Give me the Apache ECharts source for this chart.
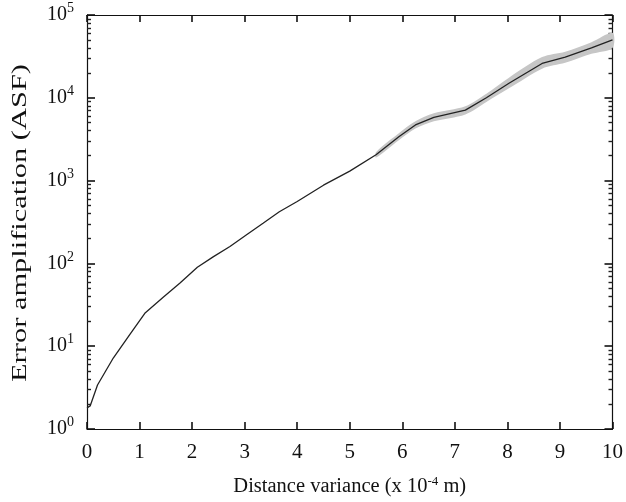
<!DOCTYPE html>
<html>
<head>
<meta charset="utf-8">
<script src="https://cdn.jsdelivr.net/npm/echarts@6/dist/echarts.min.js"></script>
<style>html,body{margin:0;padding:0;background:#fff}#c{width:626px;height:502px}</style>
</head>
<body>
<div id="c"></div>
<script>
// Mean curve
var xs = [0.0, 0.06, 0.2, 0.5, 0.82, 1.1, 1.45, 1.77, 2.1, 2.4, 2.72, 3.03, 3.35, 3.66, 4.0, 4.5, 5.0, 5.5, 5.94, 6.25, 6.6, 7.2, 7.6, 8.03, 8.66, 9.1, 9.6, 10.0];
var ys = [1.8, 1.9, 3.4, 7.2, 14, 25, 39, 58, 90, 120, 160, 220, 305, 420, 560, 880, 1300, 2050, 3400, 4700, 5800, 7100, 10000, 15000, 26000, 31000, 40000, 50000];
// Spread band
var bandX = [5.5, 5.94, 6.25, 6.6, 7.2, 7.6, 8.03, 8.66, 9.1, 9.6, 10.0];
var bandHigh = [2200, 3750, 5200, 6500, 7900, 11200, 17500, 31000, 36000, 47000, 61000];
var bandLow = [1900, 3100, 4250, 5200, 6300, 8900, 13000, 22500, 26500, 34000, 40000];
// Axis ticks
var xTicks = [0, 1, 2, 3, 4, 5, 6, 7, 8, 9, 10];
var yDecades = [0, 1, 2, 3, 4, 5];
var yMinor = [];
for (var d = 0; d < 5; d++) { for (var k = 2; k <= 9; k++) { yMinor.push(d + Math.log10(k)); } }
var yTitle = 'Error amplification (ASF)';
var xTitle = 'Distance variance (x 10{s|-4} m)';

var FONT = 'Liberation Serif';
var lineData = xs.map(function (x, i) { return [x, ys[i]]; });
var chart = echarts.init(document.getElementById('c'), null, { renderer: 'canvas' });
var ts = { color: '#111', width: 1.6 };
var tsMinor = { color: '#222', width: 1.4 };
chart.setOption({
  animation: false,
  backgroundColor: '#ffffff',
  grid: { left: 87, top: 15, width: 527, height: 414, show: false },
  graphic: [{
    type: 'text', x: 20, y: 223, rotation: Math.PI / 2, scaleX: 1.45, silent: true,
    style: { text: yTitle, fontFamily: FONT, fontSize: 21, fill: '#111', align: 'center', verticalAlign: 'middle' }
  }],
  xAxis: [{
    type: 'value', min: 0, max: 10, interval: 1, position: 'bottom',
    name: xTitle, nameLocation: 'middle', nameGap: 46,
    nameTextStyle: { fontFamily: FONT, fontSize: 20.5, color: '#111', rich: { s: { fontFamily: FONT, fontSize: 13, color: '#111', padding: [0, 0, 10, 0] } } },
    axisLine: { show: true, onZero: false, lineStyle: { color: '#111', width: 1.2 } },
    axisTick: { show: true, inside: true, length: 7, lineStyle: ts },
    axisLabel: { fontFamily: FONT, fontSize: 21, color: '#111', margin: 13 },
    splitLine: { show: false }
  }, {
    type: 'value', min: 0, max: 10, interval: 1, position: 'top',
    axisLine: { show: true, onZero: false, lineStyle: { color: '#111', width: 1.2 } },
    axisTick: { show: true, inside: true, length: 7, lineStyle: ts },
    axisLabel: { show: false }, splitLine: { show: false }
  }],
  yAxis: [{
    type: 'log', logBase: 10, min: 1, max: 100000, position: 'left',
    axisLine: { show: true, lineStyle: { color: '#111', width: 1.2 } },
    axisTick: { show: true, inside: true, length: 8, lineStyle: ts },
    axisLabel: {
      fontFamily: FONT, fontSize: 20, color: '#111', margin: 13,
      formatter: function (v) { return '{b|10}{s|' + Math.round(Math.log10(v)) + '}'; },
      rich: { b: { fontFamily: FONT, fontSize: 20, color: '#111' }, s: { fontFamily: FONT, fontSize: 14, color: '#111', padding: [0, 0, 13, 0] } }
    },
    splitLine: { show: false }
  }, {
    type: 'value', min: 0, max: 5, position: 'left',
    axisLine: { show: false },
    axisTick: { show: true, inside: true, length: 4, lineStyle: tsMinor, customValues: yMinor },
    axisLabel: { show: false }, splitLine: { show: false }
  }, {
    type: 'value', min: 0, max: 5, position: 'right',
    axisLine: { show: true, onZero: false, lineStyle: { color: '#111', width: 1.2 } },
    axisTick: { show: true, inside: true, length: 8, lineStyle: ts, customValues: yDecades },
    axisLabel: { show: false }, splitLine: { show: false }
  }, {
    type: 'value', min: 0, max: 5, position: 'right',
    axisLine: { show: false, onZero: false },
    axisTick: { show: true, inside: true, length: 4, lineStyle: tsMinor, customValues: yMinor },
    axisLabel: { show: false }, splitLine: { show: false }
  }],
  series: [{
    type: 'custom', xAxisIndex: 0, yAxisIndex: 0, silent: true, z: 1,
    data: [0],
    renderItem: function (params, api) {
      var pts = [];
      for (var i = 0; i < bandX.length; i++) pts.push(api.coord([bandX[i], bandHigh[i]]));
      for (var j = bandX.length - 1; j >= 0; j--) pts.push(api.coord([bandX[j], bandLow[j]]));
      return { type: 'polygon', shape: { points: pts, smooth: 0.3 }, style: { fill: '#c6c6c6', stroke: 'none' } };
    }
  }, {
    type: 'line', xAxisIndex: 0, yAxisIndex: 0, data: lineData, showSymbol: false, z: 3,
    lineStyle: { color: '#222', width: 1.3 }
  }]
});
</script>
</body>
</html>
